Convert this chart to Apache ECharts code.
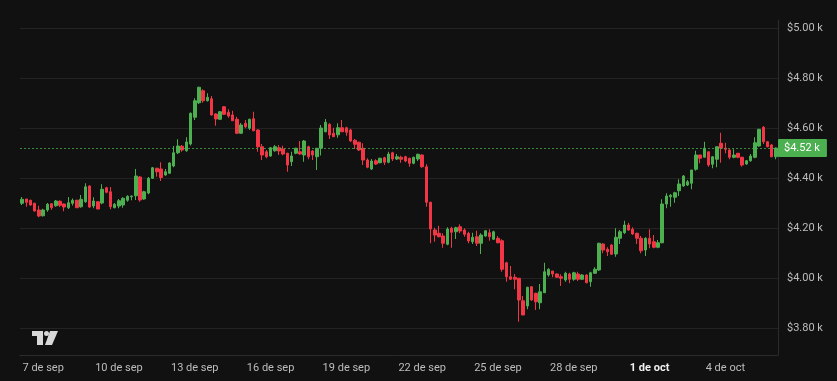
<!DOCTYPE html>
<html>
<head>
<meta charset="utf-8">
<style>
  html, body { margin: 0; padding: 0; background: #111111; }
  #chart { width: 837px; height: 381px; }
</style>
<script src="https://cdn.jsdelivr.net/npm/echarts@6/dist/echarts.min.js"></script>
</head>
<body>
<div id="chart"></div>
<script>
// 4-hour candles, first one on 6 Sep 04:00
const startTime = Date.UTC(2024, 8, 6, 4);
const stepHours = 4;
const monthNames = ['ene','feb','mar','abr','may','jun','jul','ago','sep','oct','nov','dic'];

const openVals = [4299,4316,4311,4299,4272,4249,4272,4297,4289,4307,4296,4281,4299,4311,4285,4305,4368,4288,4305,4300,
4361,4345,4281,4288,4292,4311,4325,4329,4404,4316,4340,4399,4439,4436,4412,4419,4448,4501,4527,4509,
4536,4643,4701,4749,4709,4717,4656,4635,4685,4663,4652,4635,4579,4619,4599,4637,4592,4525,4505,4488,
4509,4521,4516,4499,4465,4499,4505,4492,4525,4508,4485,4519,4585,4615,4579,4573,4601,4601,4592,4551,
4543,4519,4472,4436,4469,4461,4481,4463,4501,4476,4483,4485,4479,4459,4476,4492,4445,4303,4192,4179,
4168,4135,4199,4185,4205,4192,4179,4145,4165,4139,4168,4181,4155,4159,4149,4061,4005,4003,3999,3909,
3888,3965,3939,3901,3941,4012,4028,4016,4005,3992,4016,3995,4016,3995,4012,3985,4019,4032,4136,4115,
4132,4096,4159,4181,4212,4195,4179,4159,4112,4159,4145,4123,4141,4296,4325,4323,4349,4368,4372,4379,
4435,4492,4483,4505,4455,4475,4539,4519,4512,4483,4499,4483,4456,4469,4483,4528,4603,4545,4532,4485];

const closeVals = [4315,4303,4292,4268,4248,4272,4295,4281,4308,4291,4284,4301,4311,4281,4315,4365,4284,4308,4276,4355,
4343,4285,4295,4309,4319,4327,4328,4408,4312,4345,4399,4441,4425,4402,4425,4460,4501,4528,4512,4544,
4659,4709,4763,4709,4723,4652,4636,4665,4655,4648,4629,4579,4612,4605,4635,4589,4525,4492,4485,4521,
4525,4508,4496,4452,4488,4519,4496,4548,4485,4492,4519,4600,4623,4572,4565,4601,4585,4583,4548,4535,
4512,4472,4443,4468,4456,4479,4463,4496,4476,4485,4475,4468,4459,4483,4495,4445,4303,4196,4172,4165,
4139,4196,4183,4201,4188,4175,4148,4163,4139,4172,4189,4165,4185,4141,4035,4005,3995,3995,3912,3852,
3963,3912,3905,3945,4025,4035,4016,4003,3999,4019,3995,4021,3995,4012,3981,4021,4035,4139,4112,4105,
4095,4163,4185,4212,4192,4176,4159,4109,4159,4136,4123,4141,4296,4328,4331,4341,4376,4408,4385,4432,
4492,4479,4519,4452,4485,4525,4519,4515,4483,4492,4483,4452,4469,4488,4541,4595,4545,4525,4485,4520];

const lowVals = [4292,4285,4290,4266,4243,4246,4265,4273,4285,4284,4267,4276,4290,4280,4281,4301,4280,4279,4275,4295,
4339,4275,4279,4279,4281,4305,4311,4312,4305,4313,4335,4396,4405,4388,4409,4416,4443,4496,4505,4505,
4530,4632,4696,4701,4706,4650,4609,4632,4652,4641,4629,4576,4576,4599,4592,4587,4505,4472,4479,4485,
4505,4492,4491,4425,4448,4495,4493,4465,4475,4472,4432,4490,4583,4556,4565,4561,4585,4569,4545,4516,
4508,4452,4439,4432,4452,4459,4452,4459,4468,4472,4461,4463,4445,4455,4468,4441,4285,4139,4145,4163,
4121,4131,4121,4156,4179,4165,4139,4136,4128,4096,4165,4149,4152,4139,4025,3985,3992,3955,3825,3852,
3875,3909,3872,3875,3941,4005,4003,4000,3968,3985,3979,3989,3988,3992,3979,3965,4016,4028,4099,4088,
4093,4085,4136,4176,4189,4172,4136,4099,4088,4119,4119,4119,4139,4279,4285,4301,4328,4365,4368,4355,
4429,4459,4483,4445,4439,4443,4461,4499,4475,4479,4479,4445,4453,4465,4479,4525,4536,4523,4483,4475];

const highVals = [4324,4316,4313,4301,4289,4277,4300,4300,4312,4311,4298,4324,4318,4313,4332,4379,4371,4323,4308,4375,
4365,4364,4300,4316,4323,4331,4330,4436,4408,4349,4404,4444,4441,4463,4436,4463,4528,4555,4532,4563,
4662,4719,4765,4755,4739,4728,4659,4668,4688,4675,4669,4645,4620,4632,4637,4665,4595,4536,4512,4524,
4532,4532,4529,4501,4505,4521,4548,4552,4529,4512,4519,4612,4636,4619,4601,4619,4632,4605,4597,4556,
4545,4539,4479,4476,4475,4481,4485,4505,4505,4496,4489,4489,4481,4485,4497,4495,4455,4305,4201,4209,
4179,4203,4205,4205,4215,4199,4185,4181,4189,4179,4191,4195,4189,4168,4155,4065,4048,4016,3999,3928,
3965,3968,3941,3976,4061,4039,4028,4019,4015,4025,4021,4025,4025,4016,4015,4025,4043,4141,4139,4123,
4135,4199,4192,4229,4221,4203,4181,4168,4163,4195,4172,4152,4315,4339,4336,4345,4395,4412,4392,4432,
4509,4492,4545,4505,4488,4525,4581,4541,4515,4515,4499,4485,4472,4496,4563,4596,4608,4548,4536,4522];

const tickLabels = ['7 de sep','10 de sep','13 de sep','16 de sep','19 de sep','22 de sep','25 de sep','28 de sep','1 de oct','4 de oct'];
const boldLabel = '1 de oct';

// category names built from the candle times
const categories = openVals.map((_, i) => {
  const d = new Date(startTime + i * stepHours * 3600 * 1000);
  const hh = String(d.getUTCHours()).padStart(2, '0');
  return d.getUTCDate() + ' de ' + monthNames[d.getUTCMonth()] + ' ' + hh + ':00';
});
const dayOf = v => v.replace(/ \d\d:00$/, '');
const isTick = v => / 00:00$/.test(v) && tickLabels.indexOf(dayOf(v)) >= 0;

const candleData = openVals.map((o, i) => [o, closeVals[i], lowVals[i], highVals[i]]);
const lastClose = closeVals[closeVals.length - 1];

const fmtPrice = v => '$' + (v / 1000).toFixed(2) + ' k';

const chart = echarts.init(document.getElementById('chart'), null, { renderer: 'canvas' });
chart.setOption({
  backgroundColor: '#111111',
  animation: false,
  textStyle: { fontFamily: 'Roboto, "Noto Sans", sans-serif' },
  grid: { left: 20, right: 59, top: 20, bottom: 26 },
  xAxis: {
    type: 'category',
    data: categories,
    boundaryGap: true,
    axisLine: { show: true, lineStyle: { color: '#2b2b2b', width: 1 } },
    axisTick: { show: false },
    splitLine: { show: false },
    axisLabel: {
      interval: (idx, v) => isTick(v),
      formatter: v => dayOf(v) === boldLabel ? '{b|' + dayOf(v) + '}' : dayOf(v),
      color: '#bdbdbd',
      fontSize: 11,
      margin: 8,
      rich: { b: { color: '#f0f0f0', fontWeight: 'bold', fontSize: 11 } }
    }
  },
  yAxis: {
    type: 'value',
    position: 'right',
    min: 3692,
    max: 5032,
    splitNumber: 7,
    minInterval: 200,
    maxInterval: 200,
    scale: true,
    axisLine: { show: true, lineStyle: { color: '#2b2b2b', width: 1 } },
    axisTick: { show: false },
    splitLine: { show: true, showMinLine: false, showMaxLine: false, lineStyle: { color: '#232323', width: 1 } },
    axisLabel: {
      showMinLabel: false,
      showMaxLabel: false,
      formatter: v => fmtPrice(v),
      color: '#bdbdbd',
      fontSize: 11,
      margin: 9
    }
  },
  series: [{
    type: 'candlestick',
    data: candleData,
    barWidth: 3,
    itemStyle: {
      color: '#4caf50',
      color0: '#f23645',
      borderColor: '#4caf50',
      borderColor0: '#f23645',
      borderWidth: 1
    },
    markLine: {
      silent: true,
      symbol: ['none', 'none'],
      data: [{ yAxis: lastClose }],
      lineStyle: { color: 'rgba(76,175,80,0.75)', type: [2, 2], width: 1, opacity: 1 },
      label: {
        show: true,
        position: 'end',
        distance: 0,
        formatter: () => fmtPrice(lastClose),
        color: '#ffffff',
        backgroundColor: '#4caf50',
        fontSize: 11,
        lineHeight: 13,
        padding: [3, 7, 2, 6],
        borderRadius: 1
      }
    }
  }],
  graphic: [{
    type: 'group',
    left: 32,
    top: 331,
    children: [
      { type: 'rect', shape: { x: 0, y: 0, width: 11, height: 5 }, style: { fill: '#d8d8d8' } },
      { type: 'rect', shape: { x: 5, y: 0, width: 6, height: 14 }, style: { fill: '#d8d8d8' } },
      { type: 'circle', shape: { cx: 14.5, cy: 2.5, r: 2.5 }, style: { fill: '#d8d8d8' } },
      { type: 'polygon', shape: { points: [[18, 0], [26, 0], [20, 14], [13, 14]] }, style: { fill: '#d8d8d8' } }
    ]
  }]
});
</script>
</body>
</html>
